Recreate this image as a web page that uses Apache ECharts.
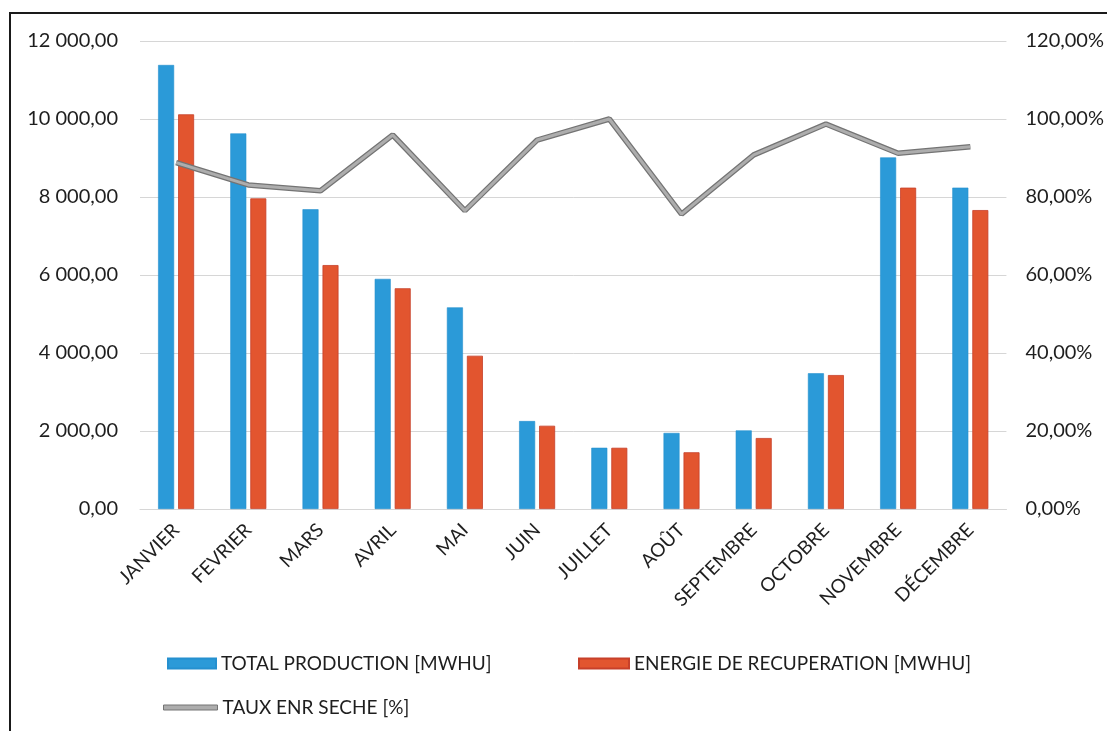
<!DOCTYPE html>
<html>
<head>
<meta charset="utf-8">
<script src="https://cdn.jsdelivr.net/npm/echarts@6/dist/echarts.min.js"></script>
<style>
  html, body { margin: 0; padding: 0; background: #fff; overflow: hidden; }
  #chart { width: 1107px; height: 731px; }
</style>
</head>
<body>
<div id="chart"></div>
<script>
// Monthly production figures (MWhu) and dry renewable share (%)
const months = ['JANVIER', 'FEVRIER', 'MARS', 'AVRIL', 'MAI', 'JUIN', 'JUILLET', 'AOÛT', 'SEPTEMBRE', 'OCTOBRE', 'NOVEMBRE', 'DÉCEMBRE'];
const totalProduction = [11385, 9630, 7685, 5900, 5170, 2255, 1570, 1950, 2015, 3480, 9015, 8240];
const energieRecuperation = [10120, 7965, 6255, 5660, 3930, 2135, 1570, 1455, 1820, 3435, 8240, 7665];
const tauxEnrSeche = [88.8, 83.1, 81.6, 95.9, 76.5, 94.6, 100.0, 75.6, 90.8, 98.7, 91.2, 92.9];

const nameTotal = 'TOTAL PRODUCTION [MWHU]';
const nameEnergie = 'ENERGIE DE RECUPERATION [MWHU]';
const nameTaux = 'TAUX ENR SECHE [%]';

const FONT = 'Lato, "Open Sans", sans-serif';
const TEXT = '#1e1e1e';

function frNumber(v) {
  const parts = v.toFixed(2).split('.');
  const intPart = parts[0].replace(/\B(?=(\d{3})+(?!\d))/g, ' ');
  return intPart + ',' + parts[1];
}

const chart = echarts.init(document.getElementById('chart'), null, { renderer: 'canvas' });

const legendText = { color: TEXT, fontFamily: FONT, fontSize: 19 };

chart.setOption({
  backgroundColor: '#fff',
  animation: false,
  graphic: [{
    type: 'rect',
    shape: { x: 10, y: 13, width: 1200, height: 800 },
    style: { fill: 'none', stroke: '#1a1a1a', lineWidth: 2 },
    silent: true
  }],
  grid: { left: 140, right: 99, top: 41, bottom: 222, containLabel: false },
  legend: [
    {
      data: [nameTotal], left: 162, top: 649, itemWidth: 48, itemHeight: 10,
      itemGap: 8, textStyle: legendText, icon: 'rect'
    },
    {
      data: [nameEnergie], left: 573, top: 649, itemWidth: 50, itemHeight: 10,
      itemGap: 8, textStyle: legendText, icon: 'rect'
    },
    {
      data: [{ name: nameTaux, icon: 'rect' }], left: 158, top: 693, itemWidth: 54, itemHeight: 5,
      itemGap: 8, textStyle: legendText,
      itemStyle: { color: '#adadad', borderColor: '#747474', borderWidth: 1 }
    }
  ],
  xAxis: {
    type: 'category',
    data: months,
    axisLine: { show: true, lineStyle: { color: '#d6d6d6', width: 1 } },
    axisTick: { show: false },
    axisLabel: {
      rotate: 45, color: TEXT, fontFamily: FONT, fontSize: 19, margin: 18,
      interval: 0
    }
  },
  yAxis: [
    {
      type: 'value', min: 0, max: 12000, interval: 2000,
      axisLine: { show: false }, axisTick: { show: false },
      splitLine: { lineStyle: { color: '#d6d6d6', width: 1 } },
      axisLabel: {
        color: TEXT, fontFamily: FONT, fontSize: 20, margin: 22,
        formatter: (v) => frNumber(v)
      }
    },
    {
      type: 'value', min: 0, max: 120, interval: 20,
      axisLine: { show: false }, axisTick: { show: false },
      splitLine: { show: false },
      axisLabel: {
        color: TEXT, fontFamily: FONT, fontSize: 20, margin: 19,
        formatter: (v) => v.toFixed(2).replace('.', ',') + '%'
      }
    }
  ],
  series: [
    {
      name: nameTotal, type: 'bar', data: totalProduction,
      barWidth: 16, barGap: '25%',
      itemStyle: { color: '#2b9ad8', borderColor: '#2590cf', borderWidth: 0.6 }
    },
    {
      name: nameEnergie, type: 'bar', data: energieRecuperation,
      barWidth: 16,
      itemStyle: { color: '#e2552f', borderColor: '#c7402a', borderWidth: 0.8 }
    },
    {
      // darker edge underneath the percentage line
      name: 'taux-contour', type: 'line', yAxisIndex: 1, data: tauxEnrSeche,
      symbol: 'none', silent: true, z: 3,
      lineStyle: { color: '#747474', width: 5.5 }
    },
    {
      name: nameTaux, type: 'line', yAxisIndex: 1, data: tauxEnrSeche,
      symbol: 'none', z: 4,
      itemStyle: { color: '#adadad' },
      lineStyle: { color: '#adadad', width: 3 }
    }
  ]
});
</script>
</body>
</html>
